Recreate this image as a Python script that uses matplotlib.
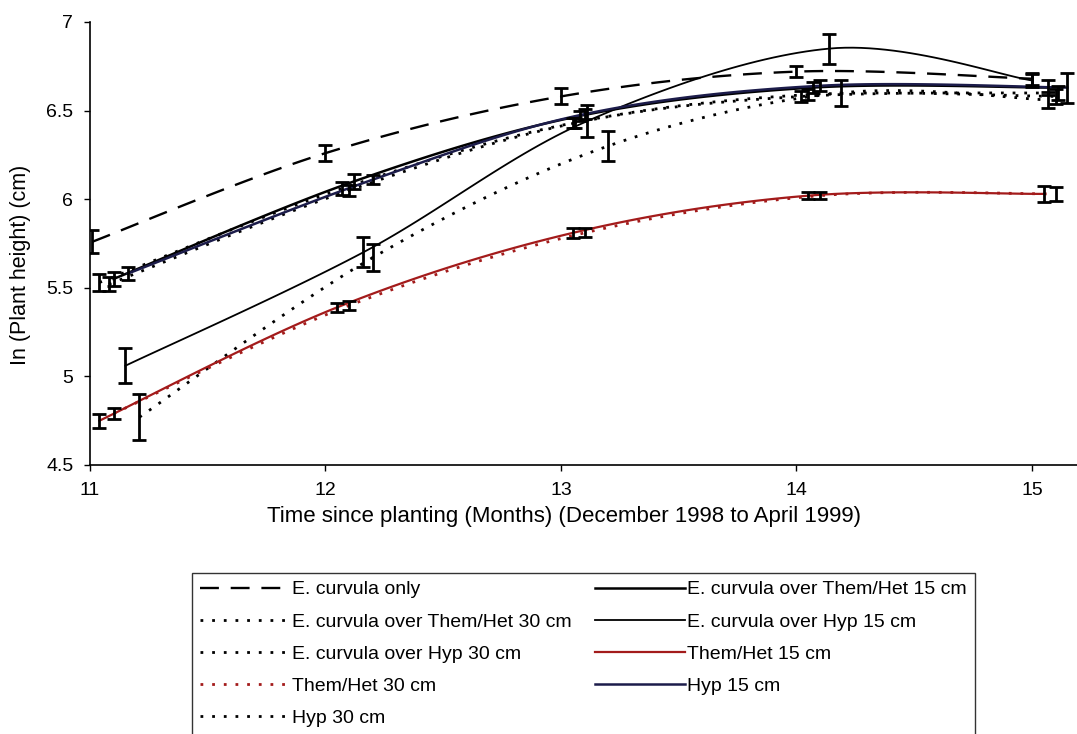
import numpy as np
import matplotlib
matplotlib.use("Agg")
import matplotlib.pyplot as plt
from matplotlib.lines import Line2D

plt.rcParams['font.family'] = ['Liberation Sans', 'DejaVu Sans']

# ---------------- data ----------------
labels = [
    "E. curvula only",
    "E. curvula over Them/Het 30 cm",
    "E. curvula over Hyp 30 cm",
    "Them/Het 30 cm",
    "Hyp 30 cm",
    "E. curvula over Them/Het 15 cm",
    "E. curvula over Hyp 15 cm",
    "Them/Het 15 cm",
    "Hyp 15 cm",
]

x_curvula_only = [11.01, 12.00, 13.00, 14.00, 15.00]
y_curvula_only = [5.76, 6.26, 6.58, 6.72, 6.68]
e_curvula_only = [0.065, 0.045, 0.045, 0.03, 0.035]

x_cur_th30 = [11.04, 12.07, 13.05, 14.05, 15.10]
y_cur_th30 = [5.53, 6.06, 6.43, 6.59, 6.58]
e_cur_th30 = [0.05, 0.035, 0.03, 0.03, 0.04]

x_cur_hyp30 = [11.21, 12.20, 13.20, 14.19, 15.07]
y_cur_hyp30 = [4.77, 5.67, 6.30, 6.60, 6.56]
e_cur_hyp30 = [0.13, 0.075, 0.085, 0.075, 0.045]

x_th30 = [11.10, 12.10, 13.10, 14.10, 15.10]
y_th30 = [4.79, 5.40, 5.81, 6.02, 6.03]
e_th30 = [0.03, 0.025, 0.025, 0.02, 0.04]

x_hyp30 = [11.08, 12.10, 13.06, 14.02, 15.11]
y_hyp30 = [5.52, 6.05, 6.43, 6.58, 6.60]
e_hyp30 = [0.04, 0.03, 0.03, 0.03, 0.04]

x_cur_th15 = [11.10, 12.12, 13.08, 14.07, 15.07]
y_cur_th15 = [5.55, 6.10, 6.47, 6.63, 6.63]
e_cur_th15 = [0.04, 0.04, 0.03, 0.03, 0.04]

x_cur_hyp15 = [11.15, 12.16, 13.11, 14.14, 15.00]
y_cur_hyp15 = [5.06, 5.70, 6.44, 6.85, 6.67]
e_cur_hyp15 = [0.10, 0.085, 0.09, 0.085, 0.035]

x_th15 = [11.04, 12.05, 13.05, 14.05, 15.05]
y_th15 = [4.75, 5.39, 5.81, 6.02, 6.03]
e_th15 = [0.04, 0.025, 0.03, 0.02, 0.045]

x_hyp15 = [11.16, 12.20, 13.10, 14.10, 15.15]
y_hyp15 = [5.58, 6.11, 6.48, 6.64, 6.63]
e_hyp15 = [0.035, 0.025, 0.03, 0.03, 0.085]

xs = [x_curvula_only, x_cur_th30, x_cur_hyp30, x_th30, x_hyp30,
      x_cur_th15, x_cur_hyp15, x_th15, x_hyp15]
ys = [y_curvula_only, y_cur_th30, y_cur_hyp30, y_th30, y_hyp30,
      y_cur_th15, y_cur_hyp15, y_th15, y_hyp15]
es = [e_curvula_only, e_cur_th30, e_cur_hyp30, e_th30, e_hyp30,
      e_cur_th15, e_cur_hyp15, e_th15, e_hyp15]

# ---------------- styles ----------------
DOT = (0, (1.0, 3.2))
styles = [
    dict(color="black", lw=1.7, ls=(0, (8, 5))),
    dict(color="black", lw=2.0, ls=DOT),
    dict(color="black", lw=2.0, ls=DOT),
    dict(color="#a31b1b", lw=2.0, ls=DOT),
    dict(color="black", lw=2.0, ls=DOT),
    dict(color="black", lw=1.8, ls="-"),
    dict(color="black", lw=1.3, ls="-"),
    dict(color="#a31b1b", lw=1.6, ls="-"),
    dict(color="#1c1c4a", lw=1.8, ls="-"),
]


def smooth(x, y, n=30):
    """Catmull-Rom curve through the data points (Excel-like smoothed line)."""
    p = np.column_stack([x, y]).astype(float)
    p = np.vstack([p[0], p, p[-1]])
    out = []
    t = np.linspace(0, 1, n)[:, None]
    for i in range(1, len(p) - 2):
        p0, p1, p2, p3 = p[i - 1], p[i], p[i + 1], p[i + 2]
        c = 0.5 * ((2 * p1) + (-p0 + p2) * t + (2 * p0 - 5 * p1 + 4 * p2 - p3) * t ** 2
                   + (-p0 + 3 * p1 - 3 * p2 + p3) * t ** 3)
        out.append(c)
    c = np.vstack(out)
    return c[:, 0], c[:, 1]


W, H = 1077, 734
fig = plt.figure(figsize=(W / 100, H / 100), dpi=100)
ax = fig.add_axes([90 / W, 1 - 465 / H, 1 - 90 / W, (465 - 22) / H])

handles = []
for x, y, e, st in zip(xs, ys, es, styles):
    sx, sy = smooth(x, y)
    ax.plot(sx, sy, color=st["color"], lw=st["lw"], linestyle=st["ls"], zorder=2)
    ax.errorbar(x, y, yerr=e, fmt="none", ecolor="black", elinewidth=2.0,
                capsize=5, capthick=2.0, zorder=3)
    handles.append(Line2D([], [], color=st["color"], lw=st["lw"], linestyle=st["ls"]))

ax.set_xlim(11, 11 + (W - 90) / 235.5)
ax.set_ylim(4.5, 7)
ax.set_xticks([11, 12, 13, 14, 15])
ax.set_yticks([4.5, 5, 5.5, 6, 6.5, 7])
ax.set_yticklabels(["4.5", "5", "5.5", "6", "6.5", "7"])
ax.spines["top"].set_visible(False)
ax.spines["right"].set_visible(False)
ax.spines["left"].set_linewidth(1.2)
ax.spines["bottom"].set_linewidth(1.2)
ax.tick_params(axis="both", labelsize=14, length=4, width=1)
ax.tick_params(axis="x", pad=8)
ax.tick_params(axis="y", pad=8)
ax.set_xlabel("Time since planting (Months) (December 1998 to April 1999)", fontsize=16)
ax.set_ylabel("In (Plant height) (cm)", fontsize=15.5)
ax.xaxis.set_label_coords((564 - 90) / 987, (465 - 506) / 443)
ax.yaxis.set_label_coords((31 - 90) / 987, (465 - 265) / 443)

leg = fig.legend(handles, labels, ncol=2, loc="upper left",
                 bbox_to_anchor=(192 / W, 1 - 573 / H), bbox_transform=fig.transFigure,
                 borderaxespad=0, fontsize=14, handlelength=4.6, handletextpad=0.15,
                 columnspacing=1.2, labelspacing=0.75, borderpad=0.4,
                 frameon=True, fancybox=False, edgecolor="black")
leg.get_frame().set_linewidth(1.0)

fig.savefig("out.png", dpi=100)
